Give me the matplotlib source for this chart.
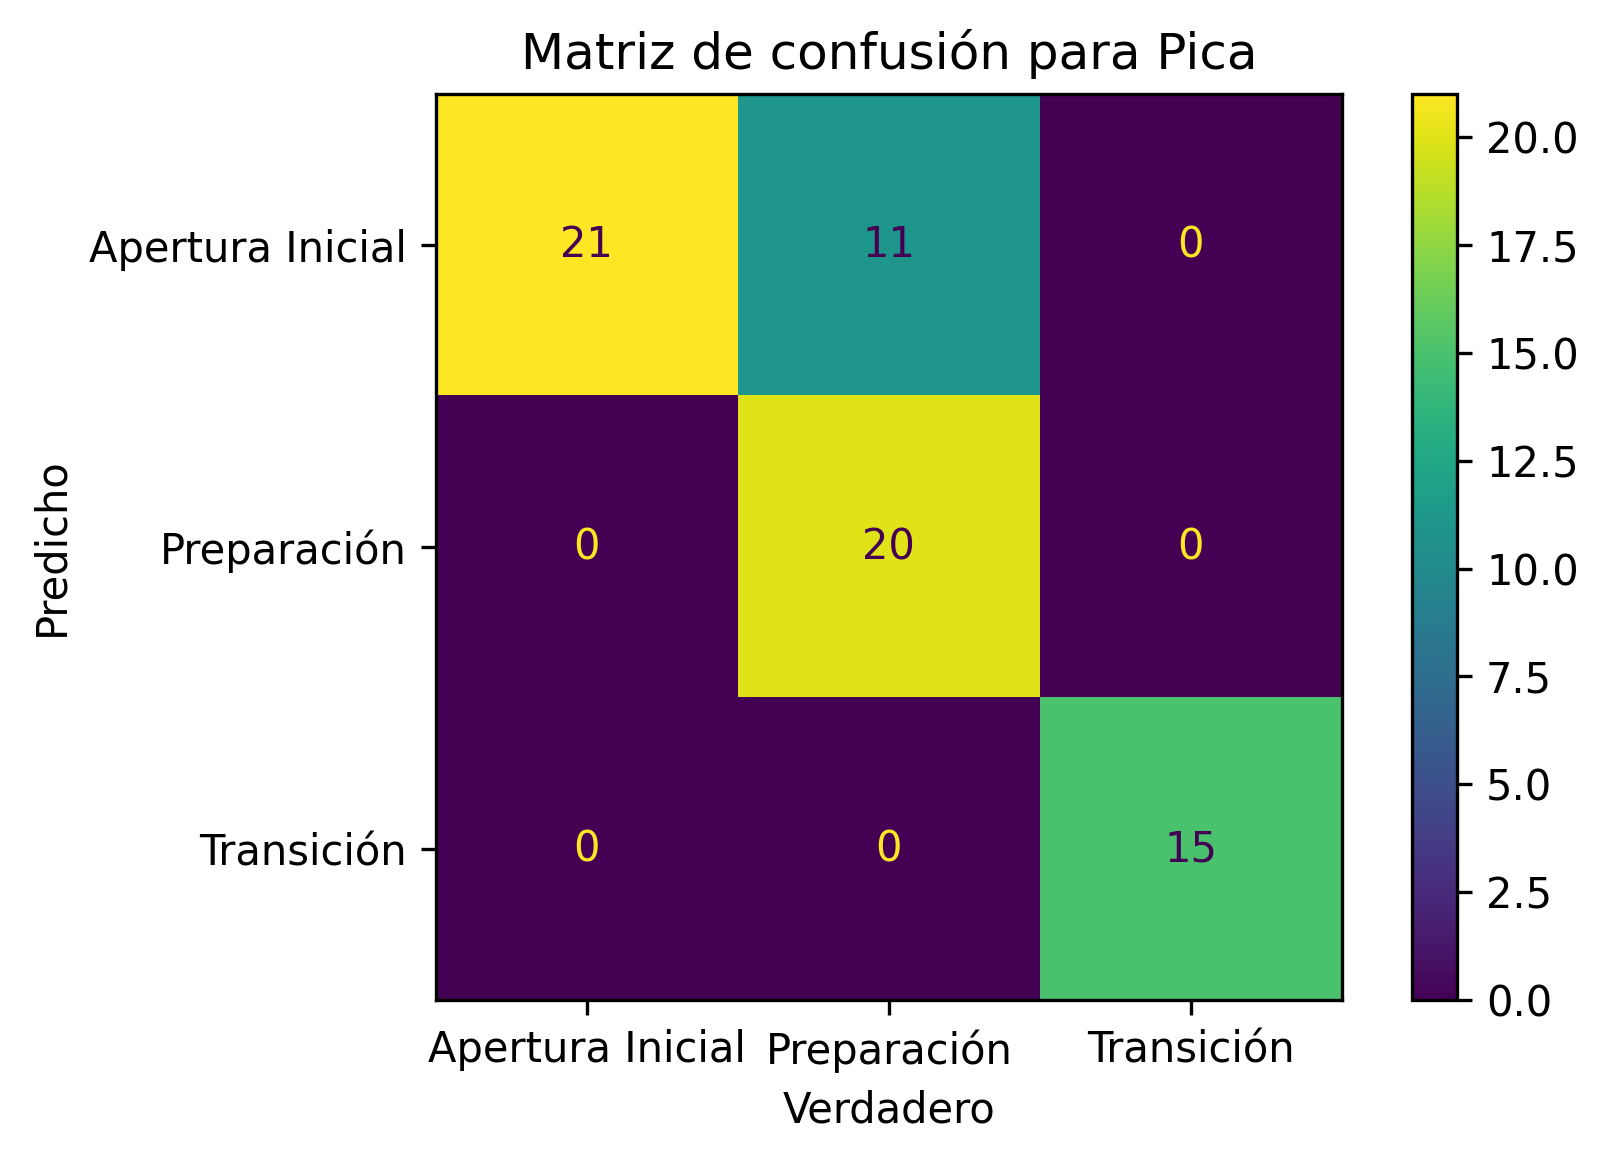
import matplotlib
matplotlib.use('Agg')
import matplotlib.pyplot as plt
import numpy as np

LABELS = ["Apertura Inicial", "Preparación", "Transición"]
CM = np.array([
    [21, 11, 0],
    [0, 20, 0],
    [0, 0, 15],
])

fig = plt.figure(figsize=(1608 / 300, 1162 / 300), dpi=300)
ax = fig.add_axes([0.2711, 0.1394, 0.5634, 0.7797])
cax = fig.add_axes([0.878, 0.1394, 0.028, 0.7797])

cmap = plt.get_cmap("viridis")
im = ax.imshow(CM, cmap=cmap, interpolation="nearest", aspect="auto")
fig.colorbar(im, cax=cax)

thresh = (CM.max() + CM.min()) / 2.0
c_min, c_max = cmap(0.0), cmap(1.0)
for i in range(CM.shape[0]):
    for j in range(CM.shape[1]):
        color = c_max if CM[i, j] < thresh else c_min
        ax.text(j, i, f"{CM[i, j]}", ha="center", va="center", color=color)

ax.set_xticks(range(len(LABELS)), LABELS)
ax.set_yticks(range(len(LABELS)), LABELS)
ax.set_xlabel("Verdadero")
ax.set_ylabel("Predicho")
ax.set_title("Matriz de confusión para Pica")

fig.savefig("out.png", dpi=300)
